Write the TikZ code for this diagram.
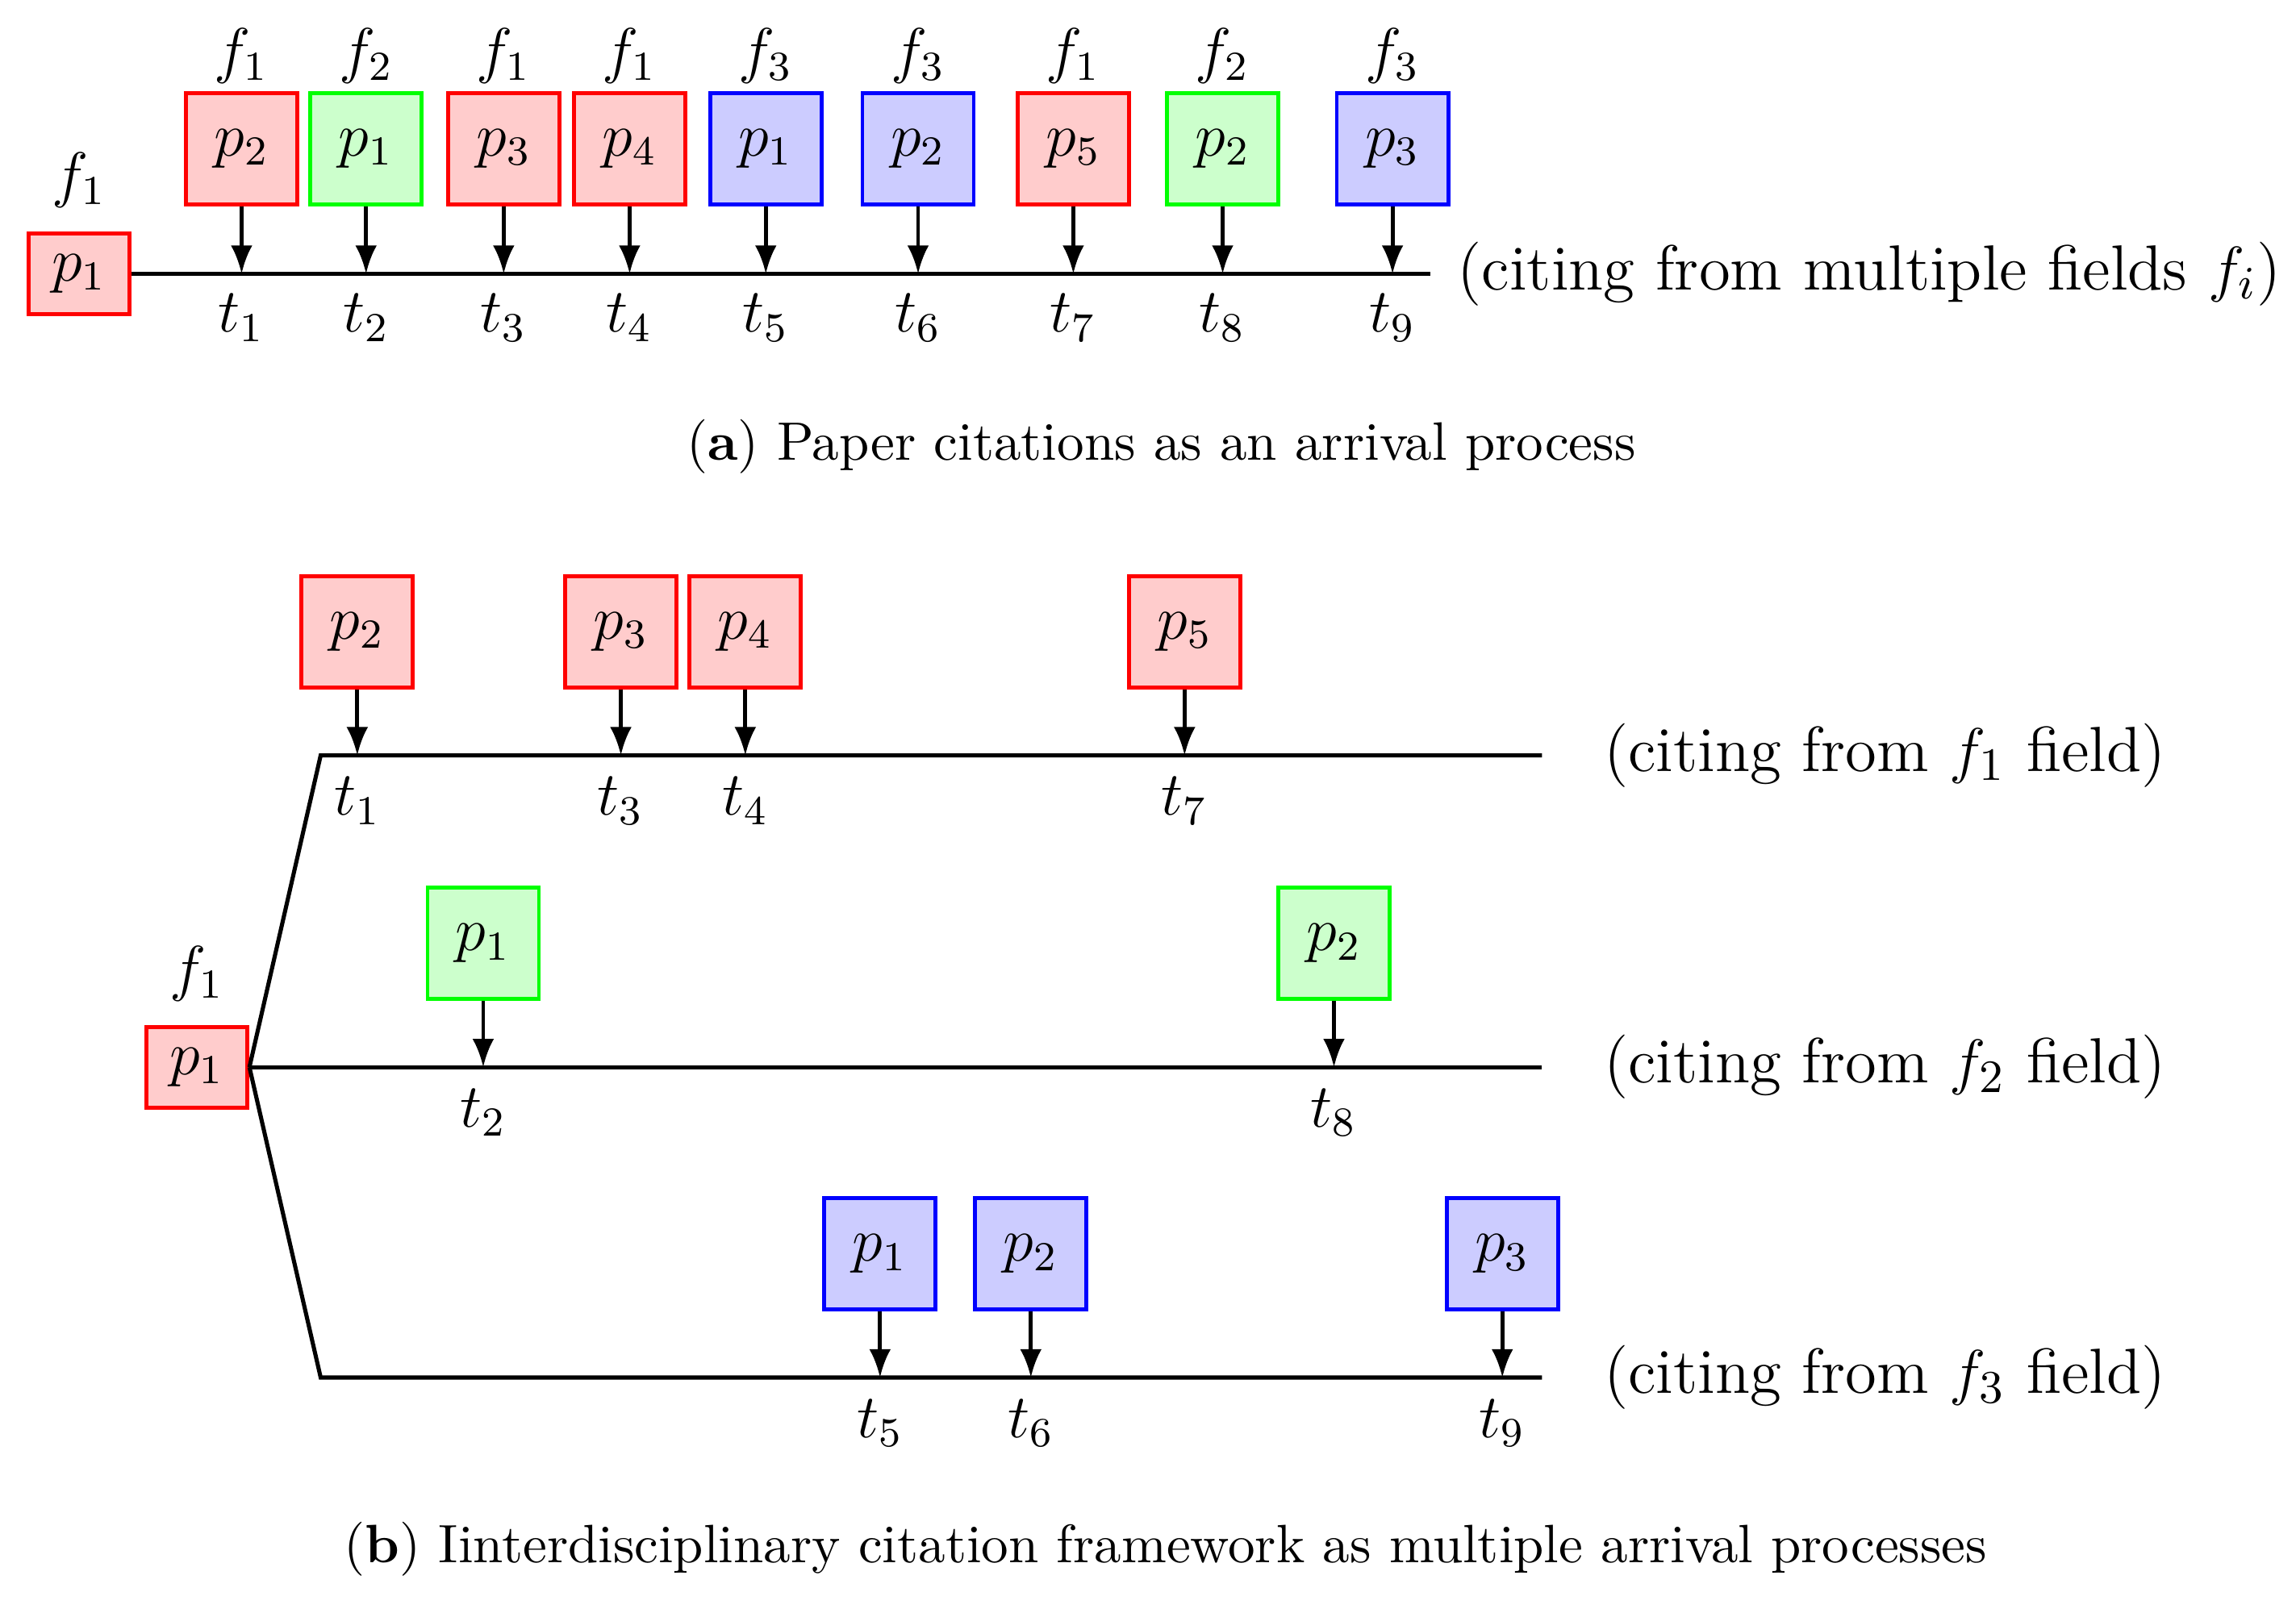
\documentclass[tikz,border=0pt]{standalone}
\usetikzlibrary{arrows.meta}
\begin{document}
\begin{tikzpicture}[x=0.01cm,y=-0.01cm,
  every node/.style={font=\fontsize{12}{14.4}\selectfont},
  flabel/.style={font=\fontsize{12.4}{14.8}\selectfont, anchor=west},
  paper/.style={draw, line width=0.75pt, minimum width=0.76cm, minimum height=0.76cm, inner sep=0pt},
  redp/.style={paper, draw=red, fill=red!20},
  greenp/.style={paper, draw=green, fill=green!20},
  bluep/.style={paper, draw=blue, fill=blue!20},
  srcp/.style={redp, minimum width=0.69cm, minimum height=0.55cm},
  tline/.style={line width=0.8pt},
  cite/.style={-{Latex[length=5.5pt,width=4.2pt]}, line width=0.75pt},
  caplabel/.style={font=\fontsize{10.5}{12.6}\selectfont}
]
\useasboundingbox (0,0) rectangle (1568,1099);

% ---------------- (a) ----------------
\node[srcp] (a0) at (54,187) {$p_1$};
\node (fa0) at (54,123) {$f_1$};
\coordinate (aend) at (977,187);
\draw[tline] (a0.east) -- (aend);

\foreach \n/\x/\sty/\f/\p in {1/165/redp/1/2, 2/250/greenp/2/1, 3/344/redp/1/3, 4/430/redp/1/4,
  5/523/bluep/3/1, 6/627/bluep/3/2, 7/733/redp/1/5, 8/835/greenp/2/2, 9/951/bluep/3/3}{
  \node[\sty] (ab\n) at (\x,101.5) {$p_{\p}$};
  \node (af\n) at (\x,38) {$f_{\f}$};
  \coordinate (at\n) at (\x,187);
  \draw[cite] (ab\n.south) -- (at\n);
  \node (atl\n) at (\x,217) {$t_{\n}$};
}
\node[flabel] (alab) at (983,187) {(citing from multiple fields $f_i$)};

\node[caplabel] (capa) at (793,305) {(\textbf{a}) Paper citations as an arrival process};

% ---------------- (b) ----------------
\node[srcp] (b0) at (134.5,729) {$p_1$};
\node (fb0) at (134.5,665) {$f_1$};

\coordinate (r1s) at (219,516);
\coordinate (r1e) at (1053,516);
\coordinate (r2e) at (1053,729);
\coordinate (r3s) at (219,941);
\coordinate (r3e) at (1053,941);
\draw[tline] (b0.east) -- (r1s) -- (r1e);
\draw[tline] (b0.east) -- (r2e);
\draw[tline] (b0.east) -- (r3s) -- (r3e);

% row f1
\foreach \n/\x/\p in {1/244/2, 3/424/3, 4/509/4, 7/809/5}{
  \node[redp] (bb\n) at (\x,431.5) {$p_{\p}$};
  \coordinate (bt\n) at (\x,516);
  \draw[cite] (bb\n.south) -- (bt\n);
  \node (btl\n) at (\x,547) {$t_{\n}$};
}
% row f2
\foreach \n/\x/\p in {2/330/1, 8/911/2}{
  \node[greenp] (bb\n) at (\x,644.5) {$p_{\p}$};
  \coordinate (bt\n) at (\x,729);
  \draw[cite] (bb\n.south) -- (bt\n);
  \node (btl\n) at (\x,760) {$t_{\n}$};
}
% row f3
\foreach \n/\x/\p in {5/601/1, 6/704/2, 9/1026/3}{
  \node[bluep] (bb\n) at (\x,856.5) {$p_{\p}$};
  \coordinate (bt\n) at (\x,941);
  \draw[cite] (bb\n.south) -- (bt\n);
  \node (btl\n) at (\x,972) {$t_{\n}$};
}

\node[flabel] (blab1) at (1083,516) {(citing from $f_1$ field)};
\node[flabel] (blab2) at (1083,729) {(citing from $f_2$ field)};
\node[flabel] (blab3) at (1083,941) {(citing from $f_3$ field)};

\node[caplabel] (capb) at (796,1058) {(\textbf{b}) Iinterdisciplinary citation framework as multiple arrival processes};
\end{tikzpicture}
\end{document}
